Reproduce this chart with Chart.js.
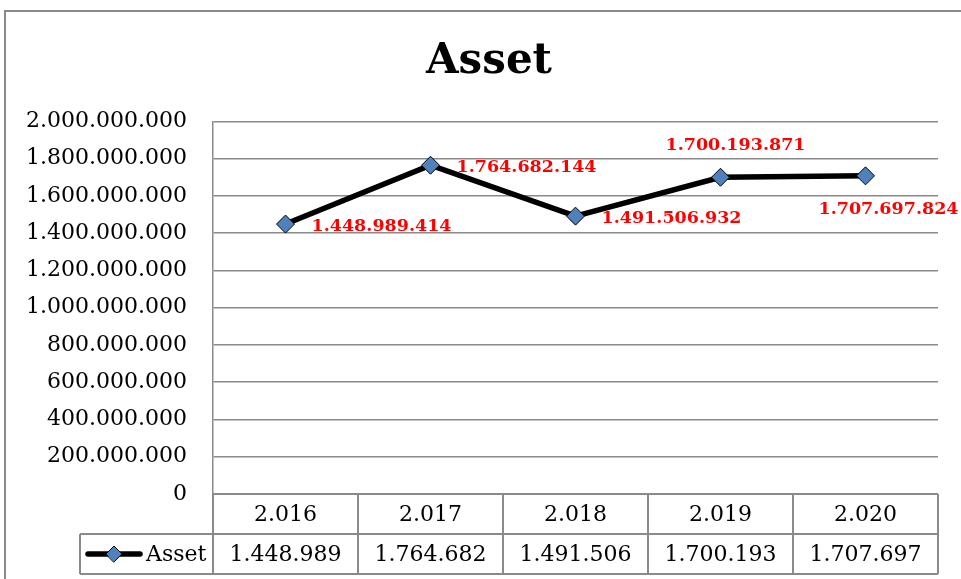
<!DOCTYPE html>
<html lang="en">
<head>
  <meta charset="UTF-8" />
  <title>Asset</title>
  <style>
    body {
      margin: 0;
      background: #fff;
    }

    #wrap {
      width: 961px;
      height: 579px;
    }
  </style>
</head>
<body>

<div id="wrap">
  <canvas id="assetChart" width="961" height="579"></canvas>
</div>

<script src="https://cdn.jsdelivr.net/npm/chart.js"></script>

<script>
  const categories = ['2.016', '2.017', '2.018', '2.019', '2.020'];
  const assetValues = [1448989414, 1764682144, 1491506932, 1700193871, 1707697824];
  const tableLabels = ['1.448.989', '1.764.682', '1.491.506', '1.700.193', '1.707.697'];
  const labelPlaces = ['right', 'right', 'right', 'above', 'below'];
  const seriesName = 'Asset';

  const gridGray = '#8a8a8a';

  function dotted(n) {
    return String(Math.round(n)).replace(/\B(?=(\d{3})+(?!\d))/g, '.');
  }

  // white page, outer frame, value labels and the data table under the axis
  const sheetPlugin = {
    id: 'sheet',
    beforeDraw(chart) {
      const { ctx, width, height } = chart;
      ctx.save();
      ctx.fillStyle = '#fff';
      ctx.fillRect(0, 0, width, height);
      ctx.strokeStyle = gridGray;
      ctx.lineWidth = 2;
      ctx.strokeRect(5, 11, width + 20, height + 20);
      ctx.restore();
    },
    afterDatasetsDraw(chart) {
      const { ctx } = chart;
      const meta = chart.getDatasetMeta(0);
      ctx.save();
      ctx.fillStyle = '#ff0000';
      ctx.font = 'bold 17.5px "DejaVu Serif"';
      ctx.textBaseline = 'middle';
      meta.data.forEach((pt, i) => {
        const txt = dotted(assetValues[i]);
        const place = labelPlaces[i];
        if (place === 'right') {
          ctx.textAlign = 'left';
          ctx.fillText(txt, pt.x + 26, pt.y + 2);
        } else if (place === 'above') {
          ctx.textAlign = 'center';
          ctx.fillText(txt, pt.x + 15, pt.y - 32);
        } else {
          ctx.textAlign = 'center';
          ctx.fillText(txt, pt.x + 23, pt.y + 34);
        }
      });
      ctx.restore();
    },
    afterDraw(chart) {
      const { ctx, chartArea } = chart;
      const x = chart.scales.x;
      const colW = x.width / categories.length;
      const top = chartArea.bottom;
      const rowH = 40;
      const legendLeft = 80;

      ctx.save();
      ctx.strokeStyle = gridGray;
      ctx.lineWidth = 2;
      ctx.beginPath();
      ctx.moveTo(x.left, top);
      ctx.lineTo(x.right, top);
      ctx.moveTo(legendLeft, top + rowH);
      ctx.lineTo(x.right, top + rowH);
      ctx.moveTo(legendLeft, top + rowH * 2);
      ctx.lineTo(x.right, top + rowH * 2);
      for (let i = 0; i <= categories.length; i++) {
        const cx = x.left + i * colW;
        ctx.moveTo(cx, top);
        ctx.lineTo(cx, top + rowH * 2);
      }
      ctx.moveTo(legendLeft, top + rowH);
      ctx.lineTo(legendLeft, top + rowH * 2);
      ctx.stroke();

      ctx.fillStyle = '#000';
      ctx.font = '22px "DejaVu Serif"';
      ctx.textAlign = 'center';
      ctx.textBaseline = 'middle';
      categories.forEach((c, i) => {
        const cx = x.getPixelForValue(i);
        ctx.fillText(c, cx, top + rowH / 2 + 1);
        ctx.fillText(tableLabels[i], cx, top + rowH * 1.5 + 1);
      });

      // legend key in the table
      const ky = top + rowH * 1.5;
      ctx.strokeStyle = '#000';
      ctx.lineWidth = 5.5;
      ctx.lineCap = 'round';
      ctx.beginPath();
      ctx.moveTo(88, ky);
      ctx.lineTo(140, ky);
      ctx.stroke();
      ctx.beginPath();
      ctx.moveTo(114 - 8, ky);
      ctx.lineTo(114, ky - 8);
      ctx.lineTo(114 + 8, ky);
      ctx.lineTo(114, ky + 8);
      ctx.closePath();
      ctx.fillStyle = '#4f81bd';
      ctx.fill();
      ctx.lineWidth = 1;
      ctx.stroke();
      ctx.fillStyle = '#000';
      ctx.textAlign = 'left';
      ctx.fillText(seriesName, 146, ky + 1);
      ctx.restore();
    }
  };

  Chart.defaults.font.family = '"DejaVu Serif"';
  Chart.defaults.color = '#000';

  new Chart(document.getElementById('assetChart'), {
    type: 'line',
    data: {
      labels: categories,
      datasets: [{
        label: seriesName,
        data: assetValues,
        borderColor: '#000',
        borderWidth: 5.5,
        tension: 0,
        pointStyle: 'rectRot',
        pointRadius: 9,
        pointBackgroundColor: '#4f81bd',
        pointBorderColor: '#000',
        pointBorderWidth: 1
      }]
    },
    options: {
      responsive: false,
      animation: false,
      layout: { padding: { left: 17, right: 0, top: 0, bottom: 0 } },
      plugins: {
        legend: { display: false },
        tooltip: { enabled: false },
        title: {
          display: true,
          text: 'Asset',
          color: '#000',
          font: { size: 42, weight: 'bold' },
          padding: { top: 37, bottom: 34 }
        }
      },
      scales: {
        x: {
          offset: true,
          grid: { display: false },
          border: { display: false },
          ticks: { display: false },
          afterFit(scale) { scale.height = 85; }
        },
        y: {
          min: 0,
          max: 2000000000,
          ticks: {
            stepSize: 200000000,
            padding: 26,
            font: { size: 22 },
            color: '#000',
            callback: (v) => dotted(v)
          },
          grid: { color: gridGray, lineWidth: 1.5, drawTicks: false },
          border: { display: true, color: gridGray, width: 1.5 },
          afterFit(scale) { scale.width = 196; }
        },
        // empty right-hand strip so the plot ends where the reference's does
        yRight: {
          position: 'right',
          min: 0,
          max: 2000000000,
          grid: { display: false },
          border: { display: false },
          ticks: { display: false },
          afterFit(scale) { scale.width = 23; }
        }
      }
    },
    plugins: [sheetPlugin]
  });
</script>

</body>
</html>
